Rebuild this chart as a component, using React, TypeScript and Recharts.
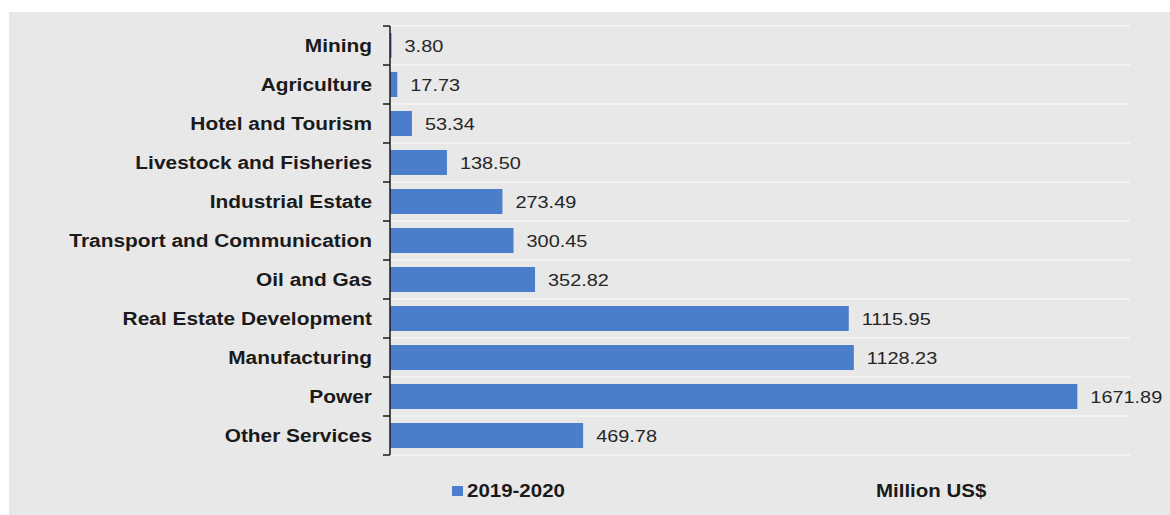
import { BarChart, Bar, XAxis, YAxis, CartesianGrid, LabelList, Legend } from "recharts";

const sectors = [
  "Mining",
  "Agriculture",
  "Hotel and Tourism",
  "Livestock and Fisheries",
  "Industrial Estate",
  "Transport and Communication",
  "Oil and Gas",
  "Real Estate Development",
  "Manufacturing",
  "Power",
  "Other Services",
];

const investment = [3.8, 17.73, 53.34, 138.5, 273.49, 300.45, 352.82, 1115.95, 1128.23, 1671.89, 469.78];

const seriesName = "2019-2020";
const unitLabel = "Million US$";

const data = sectors.map((sector, i) => ({ sector, value: investment[i] }));

const FONT = "'Liberation Sans', Arial, sans-serif";
const STRETCH = 1.17;
const BAR_COLOR = "#4a7ecb";

function SectorTick(props: any) {
  const { x, y, payload, index } = props;
  const half = payload?.offset ?? 0;
  return (
    <g>
      <line x1={x - 7} x2={x} y1={y - half} y2={y - half} stroke="#1a1a1a" strokeWidth={1.5} />
      {index === sectors.length - 1 && (
        <line x1={x - 7} x2={x} y1={y + half} y2={y + half} stroke="#1a1a1a" strokeWidth={1.5} />
      )}
      <text
        x={0}
        y={0}
        dy="0.36em"
        textAnchor="end"
        transform={`translate(${x - 18},${y}) scale(${STRETCH + 0.01},1)`}
        fontFamily={FONT}
        fontWeight="bold"
        fontSize={17.7}
        fill="#1a1a1a"
      >
        {payload.value}
      </text>
    </g>
  );
}

function ValueLabel(props: any) {
  const { x, y, width, height, value } = props;
  return (
    <text
      x={0}
      y={0}
      dy="0.36em"
      textAnchor="start"
      transform={`translate(${x + width + 13},${y + height / 2}) scale(${STRETCH},1)`}
      fontFamily={FONT}
      fontSize={17}
      fill="#262626"
    >
      {Number(value).toFixed(2)}
    </text>
  );
}

function LegendBox() {
  const textStyle: React.CSSProperties = {
    position: "absolute",
    top: 3,
    fontFamily: FONT,
    fontWeight: "bold",
    fontSize: 17.5,
    color: "#1a1a1a",
    transform: `scaleX(${STRETCH})`,
    transformOrigin: "left center",
    whiteSpace: "nowrap",
    lineHeight: "24px",
  };
  return (
    <div style={{ position: "relative", width: 1170, height: 30 }}>
      <div style={{ position: "absolute", left: 452, top: 10, width: 11, height: 10, background: BAR_COLOR }} />
      <div style={{ ...textStyle, left: 467 }}>{seriesName}</div>
      <div style={{ ...textStyle, left: 876 }}>{unitLabel}</div>
    </div>
  );
}

export default function App() {
  return (
    <div style={{ position: "absolute", left: 0, top: 0, width: 1170, height: 515, background: "#fff", overflow: "hidden" }}>
      <div style={{ position: "absolute", left: 9, top: 12, right: 0, bottom: 0, background: "#e8e8e8" }} />
      <div style={{ position: "absolute", left: 0, top: 0 }}>
        <BarChart
          width={1170}
          height={515}
          data={data}
          layout="vertical"
          margin={{ top: 26, right: 40, bottom: 60, left: 0 }}
          barSize={25}
        >
          <CartesianGrid
            vertical={false}
            stroke="#f7f7f7"
            strokeWidth={1.5}
            horizontalCoordinatesGenerator={({ offset }: any) =>
              Array.from({ length: sectors.length + 1 }, (_, i) => offset.top + (i * offset.height) / sectors.length)
            }
          />
          <XAxis type="number" domain={[0, 1800]} hide />
          <YAxis
            type="category"
            dataKey="sector"
            width={390}
            axisLine={{ stroke: "#1a1a1a", strokeWidth: 1.5 }}
            tickLine={false}
            tickSize={0}
            tickMargin={0}
            tick={<SectorTick />}
            interval={0}
          />
          <Legend
            layout="horizontal"
            verticalAlign="middle"
            align="center"
            wrapperStyle={{ top: 476, left: 0, width: 1170 }}
            content={() => <LegendBox />}
          />
          <Bar dataKey="value" name={seriesName} fill={BAR_COLOR} isAnimationActive={false}>
            <LabelList dataKey="value" content={<ValueLabel />} />
          </Bar>
        </BarChart>
      </div>
    </div>
  );
}
